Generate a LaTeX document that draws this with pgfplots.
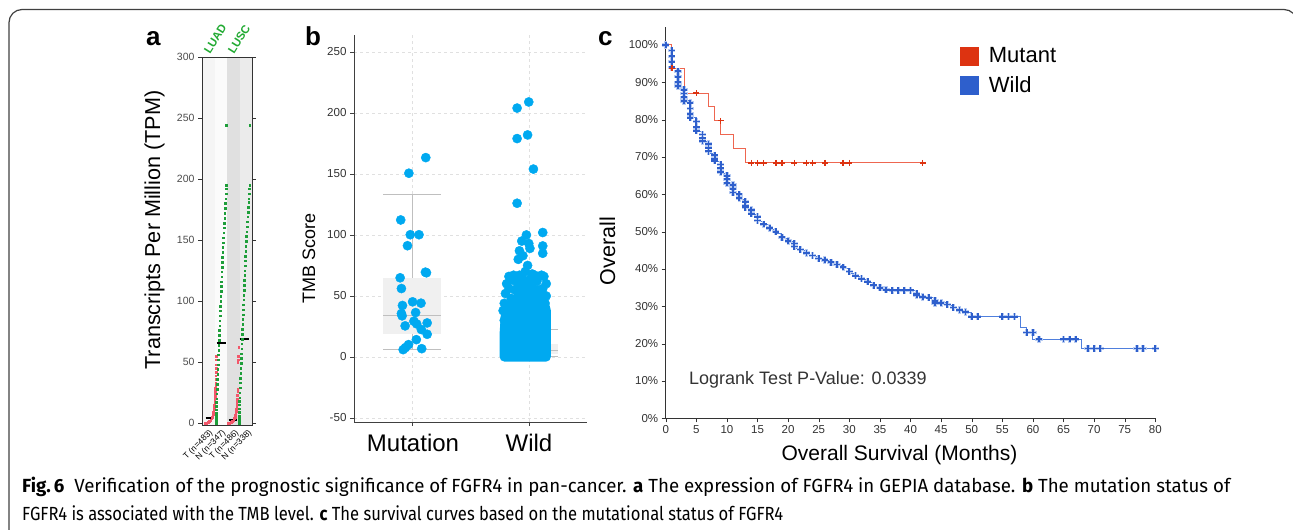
\documentclass[border=0pt]{standalone}
\usepackage{fontspec}
\setmainfont{Liberation Sans}
\newfontfamily\capfont{Fira Sans}
\usepackage{graphicx}
\usepackage{pgfplots}
\usepackage{pgfplotstable}
\pgfplotsset{compat=1.18}
\definecolor{tmb}{HTML}{00A9F0}
\definecolor{gred}{HTML}{F2576A}
\definecolor{ggreen}{HTML}{1E9E3A}
\definecolor{lblgreen}{HTML}{22AA33}
\definecolor{kmred}{HTML}{DD3311}
\definecolor{kmredl}{HTML}{EE6650}
\definecolor{kmblue}{HTML}{2E5FCC}
\definecolor{kmbluel}{HTML}{4F7FDD}
\definecolor{kmhalo}{HTML}{B8CCF2}
\definecolor{ticktxt}{HTML}{333333}
\newcommand\fs[1]{\fontsize{#1}{#1}\selectfont}
\pgfplotstableread{
m s
0 100
1 98.5
1 97
1 95.5
1 94
2 93
2 91.5
2 90
2 89
3 88
3 87
3 86
3 85
4 84.5
4 83
4 81.5
4 80.5
5 79.5
5 78
5 77
6 76
6 75
6 74.3
7 73.5
7 72.5
7 71.5
8 70.5
8 69.5
8 69
9 68
9 67
9 66
10 65
10 64
10 63
11 62.5
11 61.5
11 60.5
12 60
12 59
13 58
13 57
13 56.5
14 55.8
14 54.8
15 54
15 53
16 52
17 51
18 50
19 48.5
20 47.5
21 46.8
21 46
22 45.2
23 44.3
24 43.6
25 42.8
26 42.4
27 41.8
28 41.2
29 40.5
30 39.3
31 38.2
32 37.4
33 36.6
34 35.6
35 35
36 34.4
37 34.3
38 34.3
39 34.3
40 34.3
41 33.4
41 33.0
42 32.5
43 32.3
44 31.5
44 30.9
45 30.9
46 30.5
47 29.7
48 29
49 28.5
50 27.2
51 27.2
55 27.2
56 27.2
57 27.2
59 23
60 23
61 21.2
65 21.2
66 21.2
67 21.2
69 18.7
70 18.7
71 18.7
77 18.7
78 18.7
80 18.7
}\wildcens
\begin{document}
\begin{tikzpicture}[x=1pt,y=1pt]
\useasboundingbox (0,0) rectangle (1293,530);
\begin{scope}
\clip (0,0) rectangle (1293,530);
\draw[line width=1.2pt, black!75, rounded corners=13pt] (9,-8) -- (9,520.5) -- (1297,520.5) -- (1297,-8);
\end{scope}

% ---------------- panel a ----------------
\begin{axis}[at={(202pt,105pt)}, anchor=south west, scale only axis, width=50pt, height=368pt,
  xmin=0, xmax=50, ymin=-1.5, ymax=300, axis on top,
  xtick=\empty, ytick={0,50,...,300},
  tick align=outside, major tick length=4pt,
  y tick label style={font=\fs{10.5}, color=black!70},
  /pgf/number format/assume math mode=true,
  axis line style={black!80, line width=0.8pt}, ytick style={black!80}]
\addplot[fill=black!4, draw=none, forget plot] coordinates {(0,-1.5)(12.5,-1.5)(12.5,300)(0,300)};
\addplot[fill=black!1.5, draw=none, forget plot] coordinates {(12.5,-1.5)(25,-1.5)(25,300)(12.5,300)};
\addplot[fill=black!12, draw=none, forget plot] coordinates {(25,-1.5)(37.5,-1.5)(37.5,300)(25,300)};
\addplot[fill=black!8, draw=none, forget plot] coordinates {(37.5,-1.5)(50,-1.5)(50,300)(37.5,300)};
% LUAD tumour
\addplot[only marks, mark=square*, mark size=0.8pt, color=gred] coordinates {
(3,0)(4,0.2)(5,0.5)(6,1)(7,1.5)(8,2)(8.8,3)(9.5,4)(10,5)(10.5,6)(11,7.5)(11.4,9)(11.8,11)(12.1,13)(12.4,15)(12.6,17)(12.8,19)(13,21)(13.1,23)(13.2,25)(13.3,27)(13.4,29)(13.5,31)(13.6,33)(13.7,36)(13.8,39)(13.9,42)(14,45)(14.1,48)(14.2,52)(14.3,55)};
% LUAD normal
\addplot[only marks, mark=square*, mark size=0.8pt, color=ggreen] coordinates {
(14,0)(14,2)(14,4)(14,6)(14.1,8)(14.2,11)(14.3,14)(14.4,17)(14.5,20)(14.7,24)(14.9,28)(15.1,32)(15.3,36)(15.5,40)(15.7,44)(15.9,48)(16.1,52)(16.3,56)(16.5,60)(16.7,64)(16.9,68)(17.1,72)(17.3,76)(17.5,80)(17.7,84)(17.9,88)(18.1,92)(18.3,96)(18.5,100)(18.7,104)(18.9,108)(19.1,112)(19.3,116)(19.5,120)(19.7,124)(19.9,128)(20.1,132)(20.3,136)(20.5,140)(20.7,144)(21,148)(21.3,152)(21.6,156)(21.9,160)(22.2,164)(22.5,168)(22.8,172)(23.1,176)(23.4,180)(23.7,184)(24,188)(24.1,192)(24.2,195)(24.3,244)};
% LUSC tumour
\addplot[only marks, mark=square*, mark size=0.8pt, color=gred] coordinates {
(26,0)(27,0.2)(28,0.5)(29,1)(30,1.5)(31,2)(31.8,3)(32.4,4)(32.9,5)(33.3,6.5)(33.7,8)(34,10)(34.3,12)(34.6,14)(34.8,16)(35,18)(35.2,20)(35.4,23)(35.5,26)(35.6,28)(35.8,50)(36,52)(36.2,55)(36.5,62)};
% LUSC normal
\addplot[only marks, mark=square*, mark size=0.8pt, color=ggreen] coordinates {
(37,0)(37,2)(37,4)(37,6)(37.1,9)(37.2,12)(37.3,15)(37.4,18)(37.5,21)(37.7,25)(37.9,29)(38.1,33)(38.3,37)(38.5,41)(38.7,45)(38.9,49)(39.1,53)(39.3,57)(39.5,61)(39.7,65)(39.9,69)(40.1,73)(40.3,77)(40.5,81)(40.7,85)(40.9,89)(41.1,93)(41.3,97)(41.5,101)(41.7,105)(41.9,109)(42.1,113)(42.3,117)(42.5,121)(42.7,125)(42.9,129)(43.1,133)(43.3,137)(43.5,141)(43.8,145)(44.1,149)(44.4,153)(44.7,157)(45,161)(45.3,165)(45.6,169)(45.9,173)(46.2,177)(46.5,181)(46.8,184)(47.1,188)(47.4,192)(47.6,195)(47.8,244)};
% medians
\addplot[black, line width=2pt] coordinates {(3.7,4)(11.3,4)};
\addplot[black, line width=2pt] coordinates {(14.7,66)(24,66)};
\addplot[black, line width=2pt] coordinates {(26.5,3)(35,3)};
\addplot[black, line width=2pt] coordinates {(37.5,69)(47,69)};
\end{axis}
\node[anchor=base, rotate=90, inner sep=0pt, font=\fs{21.6}] at (160,300) {Transcripts Per Million (TPM)};
\node[anchor=base west, rotate=58, inner sep=0pt, font=\bfseries\fs{11.5}, text=lblgreen] at (210,475) {LUAD};
\node[anchor=base west, rotate=58, inner sep=0pt, font=\bfseries\fs{11.5}, text=lblgreen] at (234,475) {LUSC};
\node[anchor=base east, rotate=45, inner sep=0pt, font=\fs{8.5}] at (213,97) {T (n=483)};
\node[anchor=base east, rotate=45, inner sep=0pt, font=\fs{8.5}] at (226,97) {N (n=347)};
\node[anchor=base east, rotate=45, inner sep=0pt, font=\fs{8.5}] at (239,97) {T (n=486)};
\node[anchor=base east, rotate=45, inner sep=0pt, font=\fs{8.5}] at (252,97) {N (n=338)};
\node[anchor=base west, inner sep=0pt, font=\bfseries\fs{26}] at (146,484) {a};

% ---------------- panel b ----------------
\begin{axis}[at={(354pt,108pt)}, anchor=south west, scale only axis, width=233pt, height=387pt,
 xmin=0.5, xmax=2.5, ymin=-53.3, ymax=263.9,
 axis x line*=bottom, axis y line*=left,
 xtick={1,2}, xticklabels={}, ytick={-50,0,...,250},
 grid=major, major grid style={dashed, black!12},
 tick align=outside, major tick length=4pt,
 tick label style={font=\fs{11.6}, color=ticktxt},
 /pgf/number format/assume math mode=true,
 axis line style={black!75, line width=0.8pt}, tick style={black!75}]
% Mutation box
\addplot[fill=black!6, draw=none] coordinates {(0.75,19.2)(1.25,19.2)(1.25,64.9)(0.75,64.9)};
\addplot[black!25, line width=1pt] coordinates {(1,64.9)(1,133)};
\addplot[black!25, line width=1pt] coordinates {(1,19.2)(1,6)};
\addplot[black!25, line width=1pt] coordinates {(0.75,133)(1.25,133)};
\addplot[black!25, line width=1pt] coordinates {(0.75,6)(1.25,6)};
\addplot[black!25, line width=1pt] coordinates {(0.75,34.2)(1.25,34.2)};
% Wild box
\addplot[fill=black!6, draw=none] coordinates {(1.75,2.7)(2.25,2.7)(2.25,11)(1.75,11)};
\addplot[black!25, line width=1pt] coordinates {(2,11)(2,22.7)};
\addplot[black!25, line width=1pt] coordinates {(1.75,22.7)(2.25,22.7)};
\addplot[black!25, line width=1pt] coordinates {(1.75,0)(2.25,0)};
\addplot[black!25, line width=1pt] coordinates {(1.75,5.5)(2.25,5.5)};
% Mutation points
\addplot[only marks, mark=*, mark size=4.6pt, color=tmb, mark options={draw=none, fill=tmb}] coordinates {
(1.116,163.4)(0.971,150.6)(0.901,112.3)(0.983,100.2)(1.058,100.2)(0.959,91.2)(1.113,69.5)(1.122,69)(0.896,64.9)(0.907,56.1)(0.916,42.2)(1.003,45.2)(1.075,44.1)(0.907,35.6)(0.913,33.7)(1.029,36.4)(1.014,29.3)(0.939,25.5)(1.038,27.1)(1.128,27.9)(1.078,22.5)(1.128,18.6)(1.035,14.2)(0.968,10.1)(0.942,7.7)(0.922,6.0)(1.081,6.8)};
% Wild dense core
\addplot[fill=tmb, draw=tmb, line width=9.2pt, line join=round, line cap=round] coordinates {
(1.79,0)(2.15,0)(2.15,38)(2.12,48)(2.06,52)(2.0,54)(1.94,52)(1.86,45)(1.80,35)(1.79,20)(1.79,0)};
% Wild points
\addplot[only marks, mark=*, mark size=4.6pt, color=tmb, mark options={draw=none, fill=tmb}] coordinates {
(2.00,209)(1.90,204)(1.90,179)(1.99,182)(2.04,154)(1.90,126)(2.12,102)(1.98,100)(2.12,91)(2.12,85)(1.94,95)(2.00,93)(2.01,89)(1.92,87)(1.95,83)(1.91,80)(1.99,75)(1.97,70)(2.03,68)
(1.80,52)(1.81,60)(1.83,66)(1.86,63)(1.87,67)(1.90,61)(1.92,67)(1.95,64)(1.97,58)(2.00,62)(2.02,65)(2.05,67)(2.07,62)(2.09,66)(2.11,67)(2.13,66)(2.15,60)(2.15,50)(2.14,44)(1.79,44)(1.78,38)(1.79,30)(1.83,56)(1.88,55)(2.03,57)(2.08,55)(2.12,56)(1.94,57)(1.85,48)(2.13,48)};
\end{axis}
\node[anchor=base, rotate=90, inner sep=0pt, font=\fs{18}] at (315,272) {TMB Score};
\node[anchor=base, inner sep=0pt, font=\fs{24}] at (413,78) {Mutation};
\node[anchor=base, inner sep=0pt, font=\fs{24}] at (529,78) {Wild};
\node[anchor=base west, inner sep=0pt, font=\bfseries\fs{26}] at (305,484) {b};

% ---------------- panel c ----------------
\begin{axis}[at={(665.7pt,111.7pt)}, anchor=south west, scale only axis, width=489.6pt, height=391.6pt,
 xmin=0, xmax=80, ymin=0, ymax=104.9,
 axis x line*=bottom, axis y line*=left,
 xtick={0,5,...,80}, ytick={0,10,...,100},
 yticklabel={\pgfmathprintnumber{\tick}\%},
 tick align=outside, major tick length=4pt,
 tick label style={font=\fs{11.5}, color=ticktxt},
 /pgf/number format/assume math mode=true,
 axis line style={black!80, line width=0.8pt}, tick style={black!80},
 legend style={at={(0.600,0.955)}, anchor=north west, draw=none, fill=none, font=\fs{22}, row sep=6pt, inner sep=0pt, nodes={inner sep=3pt}},
 legend cell align=left]
\addlegendimage{legend image code/.code={\fill[kmred] (0pt,-9pt) rectangle (18pt,9pt); \path[draw=none,fill=none] (18pt,0pt) rectangle (26pt,0.1pt);}}
\addlegendentry{Mutant}
\addlegendimage{legend image code/.code={\fill[kmblue] (0pt,-9pt) rectangle (18pt,9pt); \path[draw=none,fill=none] (18pt,0pt) rectangle (26pt,0.1pt);}}
\addlegendentry{Wild}
% Wild curve
\addplot[const plot, kmbluel, line width=1pt, forget plot] coordinates {
(0,100)(1,93.75)(2,89)(3,85)(4,80.5)(5,76.8)(6,74.1)(7,71)(8,68.8)(9,65.6)(10,62.9)(11,60.3)(12,58.5)(13,56.3)(14,54.5)(15,52.7)(16,51.8)(17,50.6)(18,49.6)(19,48.2)(20,47.3)(21,45.5)(22,44.9)(23,44)(24,43.3)(25,42.6)(26,42.2)(27,41.7)(28,40.9)(29,40.2)(30,38.8)(31,37.9)(32,37.2)(33,36.4)(34,35.4)(35,34.8)(36,34.3)(41,33.0)(42,32.3)(44,30.9)(46,30.2)(47,29.5)(48,28.9)(49,28.3)(50,27.2)(58,24.4)(59,23.0)(60,21.2)(68,18.7)(80,18.7)};
\addplot[only marks, mark=+, mark size=3.6pt, kmhalo, mark options={line width=3.2pt}, forget plot] table[x=m, y=s] {\wildcens};
\addplot[only marks, mark=+, mark size=3.3pt, kmblue, mark options={line width=1.8pt}, forget plot] table[x=m, y=s] {\wildcens};
% Mutant curve
\addplot[const plot, kmredl, line width=1pt, forget plot] coordinates {
(0,100)(1,93.75)(3,87.1)(7,83.4)(8,79.7)(9,75.9)(11,72.2)(13,68.4)(42,68.4)};
\addplot[only marks, mark=+, mark size=3pt, kmred, mark options={line width=1.4pt}, forget plot] coordinates {
(1,93.75)(5,87.1)(9,79.7)(14,68.4)(15,68.4)(16,68.4)(18,68.4)(19,68.4)(21,68.4)(23,68.4)(24,68.4)(26,68.4)(29,68.4)(30,68.4)(42,68.4)};
\end{axis}
\node[anchor=base, rotate=90, inner sep=0pt, font=\fs{21.5}] at (615,279) {Overall};
\node[anchor=base, inner sep=0pt, font=\fs{21}] at (899.5,69) {Overall Survival (Months)};
\node[anchor=base west, inner sep=0pt, font=\fs{18}, text=ticktxt] at (689,145) {Logrank Test P-Value: 0.0339};
\node[anchor=base west, inner sep=0pt, font=\bfseries\fs{26}] at (598,484) {c};

% ---------------- caption ----------------
\node[anchor=base west, inner sep=0pt] at (22,37) {\resizebox{1208pt}{\height}{\capfont\fs{19}\textbf{Fig.\,6}\ \ Verification of the prognostic significance of FGFR4 in pan-cancer. \textbf{a} The expression of FGFR4 in GEPIA database. \textbf{b} The mutation status of}};
\node[anchor=base west, inner sep=0pt] at (22,9) {\resizebox{761pt}{\height}{\capfont\fs{19}FGFR4 is associated with the TMB level. \textbf{c} The survival curves based on the mutational status of FGFR4}};
\end{tikzpicture}
\end{document}
